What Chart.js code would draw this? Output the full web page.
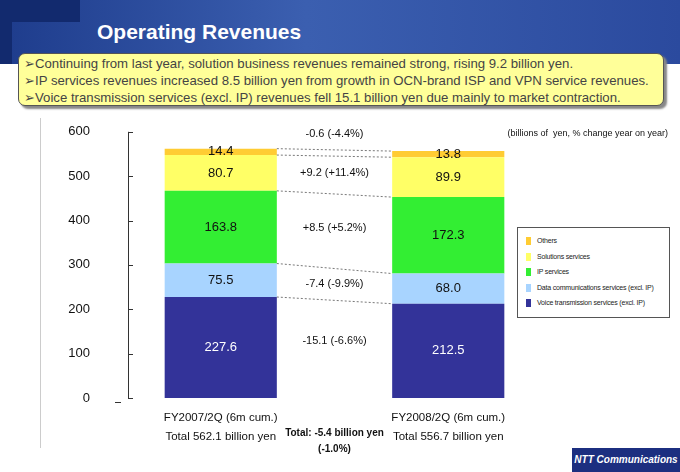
<!DOCTYPE html>
<html><head><meta charset="utf-8">
<script src="https://cdn.jsdelivr.net/npm/chart.js@4/dist/chart.umd.min.js"></script>
<style>
body{margin:0;width:680px;height:472px;position:relative;overflow:hidden;background:#fff;font-family:"Liberation Sans",Arial,sans-serif}
#banner{position:absolute;left:0;top:0;width:680px;height:64px;background:linear-gradient(90deg,#1e3c8c 0%,#3b5fb0 45%,#2b4a9e 100%)}
#sq{position:absolute;left:0;top:0;width:80px;height:22px;background:#122a6e}
#sq2{position:absolute;left:0;top:0;width:12px;height:64px;background:#122a6e}
#title{position:absolute;left:97px;top:20px;color:#fff;font-size:21px;font-weight:bold}
#box{position:absolute;left:18px;top:53px;width:646px;height:53px;background:#ffff99;border:1.5px solid #555;border-radius:7px;box-shadow:3px 3px 2px #888;font-size:13.2px;color:#444;line-height:17px;padding-left:5px;box-sizing:border-box;padding-top:1px;white-space:nowrap}
#vline{position:absolute;left:40px;top:118px;width:1px;height:330px;background:#ccc}
#legend{position:absolute;left:517px;top:227px;width:151px;height:89px;border:1px solid #555;background:#fff;font-size:7px;color:#222}
.li{position:absolute;left:8px;height:10px;line-height:10px;white-space:nowrap;letter-spacing:-0.2px}
.sw{display:inline-block;width:5px;height:8px;margin-right:6px;vertical-align:middle}
#logo{position:absolute;left:572px;top:448px;width:108px;height:24px;background:#1c2f80;color:#fff;font-size:10px;font-weight:bold;font-style:italic;line-height:24px;text-align:center}
canvas{position:absolute;left:0;top:0}
</style></head><body>
<div id="banner"></div><div id="sq"></div><div id="sq2"></div>
<div id="title">Operating Revenues</div>
<div id="vline"></div>
<div id="box">&#x27A2;Continuing from last year, solution business revenues remained strong, rising 9.2 billion yen.<br>&#x27A2;IP services revenues increased 8.5 billion yen from growth in OCN-brand ISP and VPN service revenues.<br>&#x27A2;Voice transmission services (excl. IP) revenues fell 15.1 billion yen due mainly to market contraction.</div>
<div style="position:absolute;left:0;top:115px;width:680px;height:345px"><canvas id="c" width="680" height="345"></canvas></div>
<div id="legend"></div>
<div id="logo">NTT Communications</div>
<script>
const categories=["FY2007/2Q (6m cum.)","FY2008/2Q (6m cum.)"];
const totals=["Total 562.1 billion yen","Total 556.7 billion yen"];
const seriesNames=["Voice transmission services (excl. IP)","Data communications services (excl. IP)","IP services","Solutions services","Others"];
const voice=[227.6,212.5];
const dataComm=[75.5,68.0];
const ipSvc=[163.8,172.3];
const solutions=[80.7,89.9];
const others=[14.4,13.8];
const changeLabels=["-15.1 (-6.6%)","-7.4 (-9.9%)","+8.5 (+5.2%)","+9.2 (+11.4%)","-0.6 (-4.4%)"];
const changeY=[129,256,384,507,596];
const yTicks=[0,100,200,300,400,500,600];
const colors=["#333399","#a8d4ff","#33ee33","#ffff66","#ffcc33"];
const series=[voice,dataComm,ipSvc,solutions,others];

const lg=document.getElementById('legend');
seriesNames.slice().reverse().forEach((n,i)=>{
  const d=document.createElement('div');d.className='li';d.style.top=(8+i*15.5)+'px';
  d.innerHTML='<span class="sw" style="background:'+colors[4-i]+'"></span>'+n;lg.appendChild(d);
});

const overlay={id:'ov',afterDatasetsDraw(ch){
  const c=ch.ctx,x=ch.scales.x,y=ch.scales.y;
  const metas=series.map((_,i)=>ch.getDatasetMeta(i));
  c.save();c.setLineDash([2,2]);c.strokeStyle='#555';c.lineWidth=0.8;
  for(let s=0;s<series.length;s++){
    const b0=metas[s].data[0],b1=metas[s].data[1];
    c.beginPath();c.moveTo(b0.x+b0.width/2,b0.y);c.lineTo(b1.x-b1.width/2,b1.y);c.stroke();
  }
  c.restore();
  c.save();c.textAlign='center';c.textBaseline='middle';
  for(let s=0;s<series.length;s++){
    metas[s].data.forEach((b,i)=>{
      c.font='13px "Liberation Sans",Arial';c.fillStyle=s==0?'#fff':'#111';
      c.fillText(series[s][i].toFixed(1),b.x,(b.y+b.base)/2);
    });
  }
  const mx=(x.getPixelForValue(0)+x.getPixelForValue(1))/2;
  c.font='11px "Liberation Sans",Arial';c.fillStyle='#111';
  changeLabels.forEach((t,i)=>c.fillText(t,mx,y.getPixelForValue(changeY[i])));
  c.font='9px "Liberation Sans",Arial';c.textAlign='right';
  c.fillText('(billions of  yen, % change year on year)',668,y.getPixelForValue(596));
  c.strokeStyle='#333';c.lineWidth=1;c.beginPath();
  c.moveTo(128.5,y.top);c.lineTo(128.5,y.bottom);c.stroke();
  yTicks.forEach(v=>{const py=Math.round(y.getPixelForValue(v))+0.5;c.beginPath();c.moveTo(128,py);c.lineTo(133,py);c.stroke();});
  c.beginPath();c.moveTo(115,y.bottom+4.5);c.lineTo(121,y.bottom+4.5);c.stroke();
  c.textAlign='center';c.font='11.5px "Liberation Sans",Arial';
  categories.forEach((t,i)=>{const px=x.getPixelForValue(i);c.fillText(t,px,y.bottom+20);c.fillText(totals[i],px,y.bottom+39);});
  c.font='bold 10px "Liberation Sans",Arial';
  c.fillText('Total: -5.4 billion yen',mx,y.bottom+35);c.fillText('(-1.0%)',mx,y.bottom+51);
  c.restore();
}};

new Chart(document.getElementById('c'),{
  type:'bar',
  data:{labels:categories,datasets:series.map((d,i)=>({label:seriesNames[i],data:d,backgroundColor:colors[i],borderWidth:0,barPercentage:0.493,categoryPercentage:1}))},
  options:{responsive:false,animation:false,
    layout:{padding:{left:0,right:118,top:13,bottom:62}},
    plugins:{legend:{display:false},tooltip:{enabled:false}},
    scales:{
      x:{stacked:true,display:false},
      y:{stacked:true,min:0,max:600,border:{display:false},grid:{display:false},
        afterFit(s){s.width=107;},
        afterBuildTicks(s){s.ticks=yTicks.map(v=>({value:v}));},
        ticks:{padding:9,color:'#111',font:{size:13,family:'"Liberation Sans",Arial'}}}
    }},
  plugins:[overlay]
});
</script>
</body></html>
